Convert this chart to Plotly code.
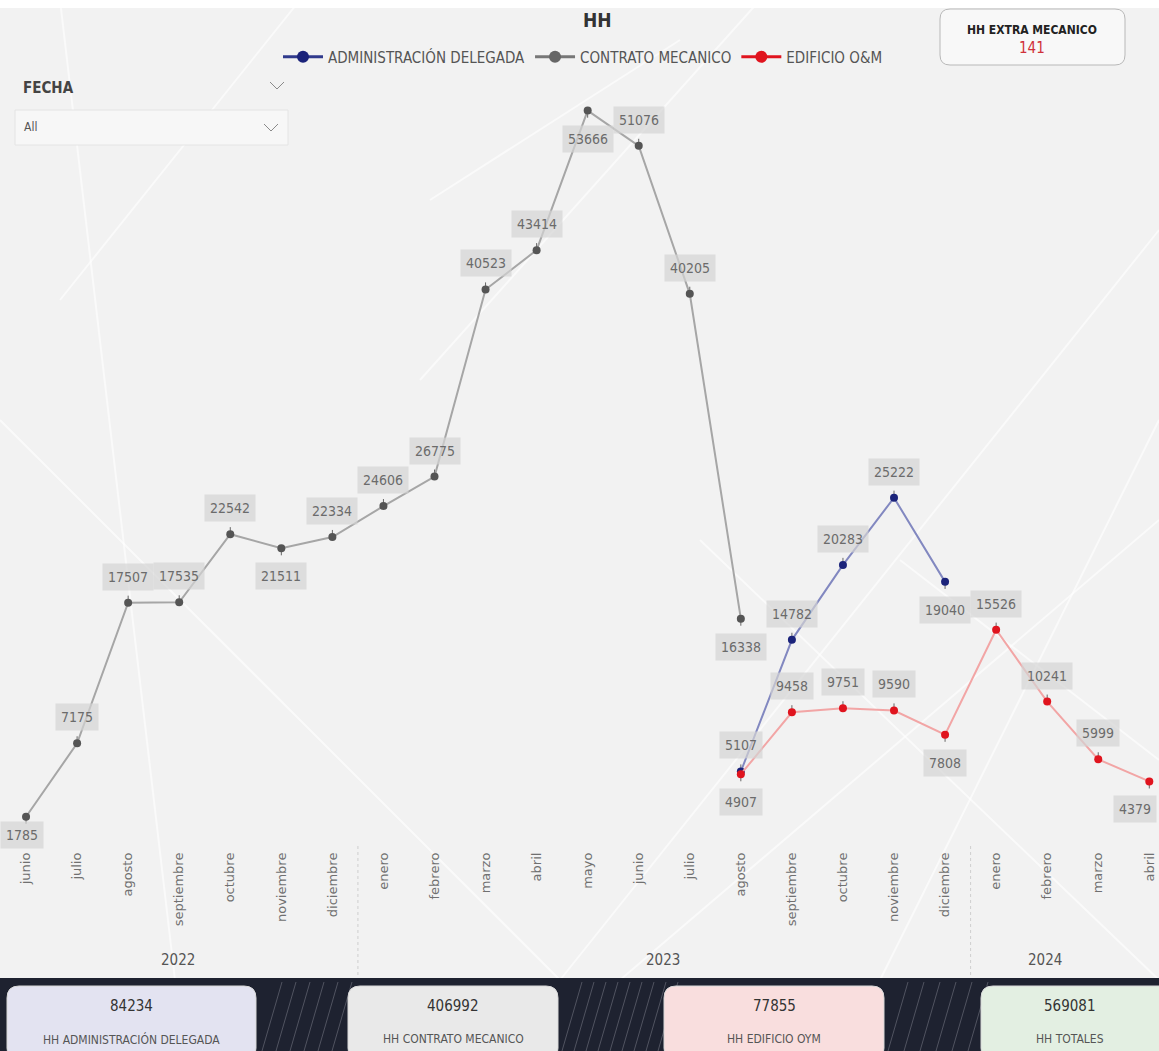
import plotly.graph_objects as go

W, H = 1159, 1051

# ---------------- data ----------------
months = ["junio", "julio", "agosto", "septiembre", "octubre", "noviembre", "diciembre",
          "enero", "febrero", "marzo", "abril", "mayo", "junio", "julio", "agosto",
          "septiembre", "octubre", "noviembre", "diciembre",
          "enero", "febrero", "marzo", "abril"]
years = ["2022", "2023", "2024"]

contrato = [1785, 7175, 17507, 17535, 22542, 21511, 22334, 24606, 26775, 40523, 43414,
            53666, 51076, 40205, 16338] + [None] * 8
admin = [None] * 14 + [5107, 14782, 20283, 25222, 19040] + [None] * 4
edificio = [None] * 14 + [4907, 9458, 9751, 9590, 7808, 15526, 10241, 5999, 4379]

# label placement (a = above, b = below)
contrato_pos = ["b", "a", "a", "a", "a", "b", "a", "a", "a", "a", "a", "b", "a", "a", "b"] + [None] * 8
admin_pos = [None] * 14 + ["a", "a", "a", "a", "b"] + [None] * 4
edificio_pos = [None] * 14 + ["b", "a", "a", "a", "b", "a", "a", "a", "b"]

cards = [("84234", "HH ADMINISTRACIÓN DELEGADA"), ("406992", "HH CONTRATO MECANICO"),
         ("77855", "HH EDIFICIO OYM"), ("569081", "HH TOTALES")]
extra_title, extra_value = "HH EXTRA MECANICO", "141"

x = list(range(len(months)))

FONT = "DejaVu Sans Condensed, Liberation Sans Narrow, sans-serif"


def px(v):
    return v / W


def py(v):
    return 1 - v / H


def rrect(x0, y0, x1, y1, r):
    pts = [
        f"M{px(x0 + r)},{py(y0)}", f"L{px(x1 - r)},{py(y0)}",
        f"Q{px(x1)},{py(y0)} {px(x1)},{py(y0 + r)}", f"L{px(x1)},{py(y1 - r)}",
        f"Q{px(x1)},{py(y1)} {px(x1 - r)},{py(y1)}", f"L{px(x0 + r)},{py(y1)}",
        f"Q{px(x0)},{py(y1)} {px(x0)},{py(y1 - r)}", f"L{px(x0)},{py(y0 + r)}",
        f"Q{px(x0)},{py(y0)} {px(x0 + r)},{py(y0)}", "Z"]
    return " ".join(pts)


def note(xp, yp, text, size, color, xanchor="center"):
    return dict(x=px(xp), y=py(yp), xref="paper", yref="paper", text=text, showarrow=False,
                xanchor=xanchor, yanchor="middle",
                font=dict(family=FONT, size=size, color=color))


TICK = 520
fig = go.Figure()

series = [
    ("CONTRATO MECANICO", contrato, contrato_pos, "#a6a6a6", "#555555"),
    ("ADMINISTRACIÓN DELEGADA", admin, admin_pos, "#8288c0", "#1b237a"),
    ("EDIFICIO O&M", edificio, edificio_pos, "#f2a5a5", "#e0141e"),
]
for name, vals, pos, lc, mc in series:
    fig.add_trace(go.Scatter(
        x=x, y=vals, mode="lines+markers", name=name, showlegend=False,
        line=dict(color=lc, width=2), marker=dict(color=mc, size=8),
        error_y=dict(type="data", symmetric=False,
                     array=[TICK if p == "a" else 0 for p in pos],
                     arrayminus=[TICK if p == "b" else 0 for p in pos],
                     color="#666", thickness=1, width=0),
        connectgaps=False, hoverinfo="skip"))

# legend-only traces
for name, col, lc in [("ADMINISTRACIÓN DELEGADA", "#1b237a", "#303a8c"),
                      ("CONTRATO MECANICO", "#666666", "#777777"),
                      ("EDIFICIO O&M", "#e0141e", "#e0141e")]:
    fig.add_trace(go.Scatter(x=[None], y=[None], mode="lines+markers", name=name,
                             line=dict(color=lc, width=3), marker=dict(color=col, size=12)))

annotations = []
last_index = len(months) - 1
for name, vals, pos, lc, mc in series:
    for i, (v, p) in enumerate(zip(vals, pos)):
        if v is None:
            continue
        ys = 26 if p == "a" else -28
        xs = 0
        if i == 0:
            ys, xs = -18, -4
        if i == last_index:
            xs = -14
        annotations.append(dict(
            x=i, y=v, xref="x", yref="y", text=str(v), showarrow=False,
            xanchor="center", yanchor="middle", yshift=ys, xshift=xs,
            font=dict(family=FONT, size=14, color="#6b6b6b"),
            bgcolor="rgba(212,212,212,0.7)", borderpad=5))

# title and header
annotations.append(note(597, 20, "<b>HH</b>", 19, "#333"))
annotations.append(note(21, 88, "<b>FECHA</b>", 15, "#444", "left"))
annotations.append(note(22, 127, "All", 12, "#555", "left"))
annotations.append(note(1032, 30, f"<b>{extra_title}</b>", 12, "#222"))
annotations.append(note(1032, 48, extra_value, 15, "#d0303a"))

# year labels
for yr, xp in zip(years, [178, 663, 1045]):
    annotations.append(note(xp, 960, yr, 15, "#555"))

# bottom cards
card_x = [(7, 256), (348, 558), (664, 884), (981, 1175)]
card_cx = [131, 453, 774, 1070]
card_fill = ["#e3e3f1", "#e9e9e9", "#f9dede", "#e3efe2"]
for (num, lab), cx in zip(cards, card_cx):
    annotations.append(note(cx, 1006, num, 15, "#333"))
    annotations.append(note(cx, 1039, lab, 12, "#555"))

shapes = []
# background streaks
for (a, b, c, d) in [(60, 0, 175, 980), (0, 420, 560, 980), (300, 0, 60, 300),
                     (1159, 230, 560, 980), (900, 560, 1159, 760), (760, 0, 420, 380),
                     (1159, 420, 880, 980), (620, 980, 1159, 520), (700, 540, 1159, 980),
                     (430, 200, 680, 40)]:
    shapes.append(dict(type="line", xref="paper", yref="paper", x0=px(a), y0=py(b),
                       x1=px(c), y1=py(d), line=dict(color="rgba(255,255,255,0.6)", width=2),
                       layer="below"))
shapes.append(dict(type="rect", xref="paper", yref="paper", x0=0, x1=1, y0=py(8), y1=1,
                   fillcolor="#ffffff", line=dict(width=0), layer="below"))
# filter box and chevrons
shapes.append(dict(type="rect", xref="paper", yref="paper", x0=px(15), x1=px(288),
                   y0=py(145), y1=py(110), fillcolor="#f7f7f7",
                   line=dict(color="#e4e4e4", width=1), layer="below"))
for cx, cy in [(277, 86), (271, 128)]:
    shapes.append(dict(type="path", xref="paper", yref="paper",
                       path=f"M{px(cx - 7)},{py(cy - 4)} L{px(cx)},{py(cy + 3)} L{px(cx + 7)},{py(cy - 4)}",
                       line=dict(color="#8a8a8a", width=1)))
# extra card
shapes.append(dict(type="path", xref="paper", yref="paper", path=rrect(940, 9, 1125, 65, 10),
                   fillcolor="#f8f8f8", line=dict(color="#b8b8b8", width=1), layer="below"))
# year separators
for xs in [6.5, 18.5]:
    shapes.append(dict(type="line", xref="x", yref="paper", x0=xs, x1=xs, y0=py(846), y1=py(975),
                       line=dict(color="#cfcfcf", width=1, dash="dot")))
# bottom dark strip
shapes.append(dict(type="rect", xref="paper", yref="paper", x0=0, x1=1, y0=0, y1=py(978),
                   fillcolor="#1e2230", line=dict(width=0)))
for rng, step in [((262, 345), 14), ((562, 660), 12), ((888, 978), 16)]:
    for xs in range(rng[0], rng[1], step):
        shapes.append(dict(type="line", xref="paper", yref="paper", x0=px(xs), y0=py(1051),
                           x1=px(xs + 20), y1=py(982),
                           line=dict(color="rgba(200,200,210,0.3)", width=1)))
for (x0, x1), fc in zip(card_x, card_fill):
    shapes.append(dict(type="path", xref="paper", yref="paper", path=rrect(x0, 986, x1, 1060, 12),
                       fillcolor=fc, line=dict(color="#d8d8d8", width=1)))

fig.update_layout(
    width=W, height=H, autosize=False,
    margin=dict(l=0, r=0, t=0, b=0),
    paper_bgcolor="#f2f2f2", plot_bgcolor="rgba(0,0,0,0)",
    font=dict(family=FONT, color="#555"),
    xaxis=dict(domain=[0, 1], range=[-0.51, 22.19], tickmode="array", tickvals=x,
               ticktext=months, tickangle=-90, showgrid=False, zeroline=False,
               showline=False, ticks="", fixedrange=True, ticklabelstandoff=8,
               tickfont=dict(family="DejaVu Sans, sans-serif", size=13, color="#707070")),
    yaxis=dict(domain=[py(841), py(60)], range=[0, 57385], visible=False,
               showgrid=False, zeroline=False),
    legend=dict(orientation="h", x=px(583), xanchor="center", y=py(57), yanchor="middle",
                font=dict(family=FONT, size=15, color="#555"), bgcolor="rgba(0,0,0,0)",
                itemwidth=40, tracegroupgap=0),
    annotations=annotations, shapes=shapes,
    showlegend=True,
)

fig.write_html("out.html")
